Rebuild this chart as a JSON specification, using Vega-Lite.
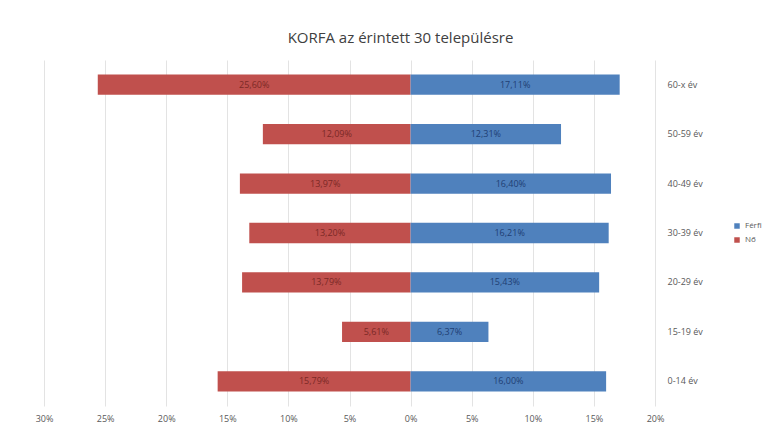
{
  "$schema": "https://vega.github.io/schema/vega-lite/v6.json",
  "autosize": {"type": "none"},
  "padding": {"left": 44, "top": 60, "right": 122, "bottom": 21},
  "width": 611,
  "height": 346,
  "background": "white",
  "title": {
    "text": "KORFA az érintett 30 településre",
    "anchor": "middle",
    "dx": 51,
    "offset": 14,
    "font": "Open Sans",
    "fontSize": 15,
    "fontWeight": "normal",
    "color": "#404040"
  },
  "data": {
    "values": [
      {"age": "60-x év", "sex": "Nő", "pct": 25.6},
      {"age": "60-x év", "sex": "Férfi", "pct": 17.11},
      {"age": "50-59 év", "sex": "Nő", "pct": 12.09},
      {"age": "50-59 év", "sex": "Férfi", "pct": 12.31},
      {"age": "40-49 év", "sex": "Nő", "pct": 13.97},
      {"age": "40-49 év", "sex": "Férfi", "pct": 16.4},
      {"age": "30-39 év", "sex": "Nő", "pct": 13.2},
      {"age": "30-39 év", "sex": "Férfi", "pct": 16.21},
      {"age": "20-29 év", "sex": "Nő", "pct": 13.79},
      {"age": "20-29 év", "sex": "Férfi", "pct": 15.43},
      {"age": "15-19 év", "sex": "Nő", "pct": 5.61},
      {"age": "15-19 év", "sex": "Férfi", "pct": 6.37},
      {"age": "0-14 év", "sex": "Nő", "pct": 15.79},
      {"age": "0-14 év", "sex": "Férfi", "pct": 16.0}
    ]
  },
  "transform": [
    {"calculate": "datum.sex === 'Nő' ? -datum.pct : datum.pct", "as": "x"},
    {"calculate": "datum.x / 2", "as": "mid"},
    {"calculate": "replace(format(datum.pct, '.2f'), '.', ',') + '%'", "as": "label"}
  ],
  "encoding": {
    "y": {
      "field": "age",
      "type": "nominal",
      "sort": ["60-x év", "50-59 év", "40-49 év", "30-39 év", "20-29 év", "15-19 év", "0-14 év"],
      "scale": {"paddingInner": 0.59, "paddingOuter": 0.295},
      "axis": {
        "orient": "right",
        "title": null,
        "domain": false,
        "ticks": false,
        "labelPadding": 12,
        "labelFont": "Open Sans",
        "labelFontSize": 9,
        "labelColor": "#595959"
      }
    }
  },
  "layer": [
    {
      "mark": {"type": "bar", "stroke": null},
      "encoding": {
        "x": {
          "field": "x",
          "type": "quantitative",
          "scale": {"domain": [-30, 20], "nice": false, "zero": false},
          "axis": {
            "title": null,
            "values": [-30, -25, -20, -15, -10, -5, 0, 5, 10, 15, 20],
            "labelExpr": "abs(datum.value) + '%'",
            "labelFlush": false,
            "labelOverlap": false,
            "domain": false,
            "ticks": false,
            "grid": true,
            "gridColor": "#e3e3e3",
            "labelPadding": 8,
            "labelFont": "Open Sans",
            "labelFontSize": 9,
            "labelColor": "#595959"
          }
        },
        "color": {
          "field": "sex",
          "type": "nominal",
          "scale": {"domain": ["Férfi", "Nő"], "range": ["#4F81BD", "#C0504D"]},
          "legend": {
            "title": null,
            "orient": "none",
            "legendX": 689,
            "legendY": 162,
            "symbolType": "square",
            "symbolSize": 30,
            "labelFont": "Open Sans",
            "labelFontSize": 8,
            "labelColor": "#595959",
            "rowPadding": 6
          }
        }
      }
    },
    {
      "mark": {"type": "text", "font": "Open Sans", "fontSize": 9, "align": "center", "baseline": "middle"},
      "encoding": {
        "x": {"field": "mid", "type": "quantitative"},
        "text": {"field": "label"},
        "color": {
          "field": "sex",
          "type": "nominal",
          "scale": {"domain": ["Férfi", "Nő"], "range": ["#1F3F74", "#7B2926"]},
          "legend": null
        }
      }
    }
  ],
  "resolve": {"scale": {"color": "independent"}},
  "config": {"view": {"stroke": null}}
}
